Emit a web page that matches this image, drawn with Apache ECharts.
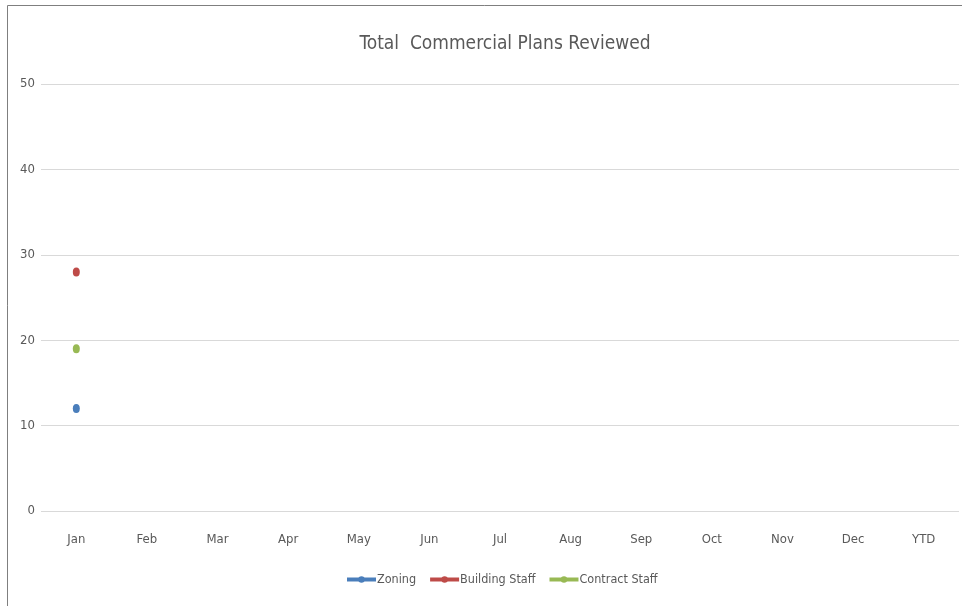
<!DOCTYPE html>
<html><head><meta charset="utf-8">
<script src="https://cdn.jsdelivr.net/npm/echarts@6/dist/echarts.min.js"></script>
<style>html,body{margin:0;padding:0;background:#fff}#c{width:962px;height:606px}</style>
</head><body><div id="c"></div>
<script>
const categories = ['Jan','Feb','Mar','Apr','May','Jun','Jul','Aug','Sep','Oct','Nov','Dec','YTD'];
const zoning = [12, null, null, null, null, null, null, null, null, null, null, null, null];
const buildingStaff = [28, null, null, null, null, null, null, null, null, null, null, null, null];
const contractStaff = [19, null, null, null, null, null, null, null, null, null, null, null, null];
const seriesNames = ['Zoning','Building Staff','Contract Staff'];
const colors = ['#4a7ebb','#be4b48','#98b954'];
const FONT = '"DejaVu Sans Condensed", "Liberation Sans Narrow", sans-serif';
const chart = echarts.init(document.getElementById('c'));
const mk = (name, data, color) => ({
  name, type: 'line', data, color,
  symbol: 'circle', symbolSize: [7, 9],
  lineStyle: {width: 4, color}, itemStyle: {color},
  connectNulls: false
});
chart.setOption({
  animation: false,
  title: {text: 'Total  Commercial Plans Reviewed', left: 500, textAlign: 'center', top: 30,
    textStyle: {fontFamily: FONT, fontWeight: 'normal', fontSize: 19, color: '#595959'}},
  grid: {left: 41, right: 3, top: 84, bottom: 95},
  xAxis: {type: 'category', data: categories, boundaryGap: true,
    axisLine: {show: false}, axisTick: {show: false},
    axisLabel: {fontFamily: FONT, fontSize: 13, color: '#595959', margin: 22}},
  yAxis: {type: 'value', min: 0, max: 50, interval: 10,
    axisLine: {show: false}, axisTick: {show: false},
    axisLabel: {fontFamily: FONT, fontSize: 13, color: '#595959', margin: 6},
    splitLine: {lineStyle: {color: '#d9d9d9', width: 1}}},
  legend: {bottom: 15, left: 340, itemWidth: 29, itemHeight: 8, itemGap: 12,
    lineStyle: {width: 4},
    textStyle: {fontFamily: FONT, fontSize: 12.5, color: '#595959', padding: [0,0,0,-4]},
    data: seriesNames},
  series: [mk(seriesNames[0], zoning, colors[0]), mk(seriesNames[1], buildingStaff, colors[1]), mk(seriesNames[2], contractStaff, colors[2])],
  graphic: [
    {type: 'line', shape: {x1: 7.5, y1: 5.5, x2: 962, y2: 5.5}, style: {stroke: '#7f7f7f', lineWidth: 1}, silent: true},
    {type: 'line', shape: {x1: 7.5, y1: 5.5, x2: 7.5, y2: 606}, style: {stroke: '#7f7f7f', lineWidth: 1}, silent: true}
  ]
});
</script></body></html>
